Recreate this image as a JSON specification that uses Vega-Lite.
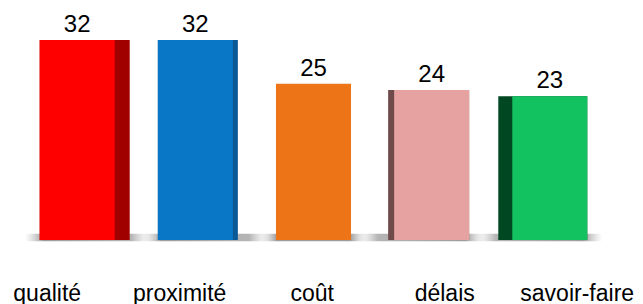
{
  "$schema": "https://vega.github.io/schema/vega-lite/v6.json",
  "width": 643,
  "height": 240,
  "autosize": {"type": "none"},
  "padding": {"left": 0, "top": 0, "right": 0, "bottom": 64},
  "background": "white",
  "config": {"view": {"stroke": null}},
  "data": {
    "values": [
      {"critere": "qualité", "valeur": 32},
      {"critere": "proximité", "valeur": 32},
      {"critere": "coût", "valeur": 25},
      {"critere": "délais", "valeur": 24},
      {"critere": "savoir-faire", "valeur": 23}
    ]
  },
  "encoding": {
    "x": {
      "field": "critere",
      "type": "nominal",
      "sort": null,
      "scale": {"type": "band", "domain": ["qualité", "proximité", "coût", "délais", "savoir-faire"], "range": [39.7, 587.3], "paddingInner": 0.365, "paddingOuter": 0},
      "axis": null
    },
    "y": {
      "field": "valeur",
      "type": "quantitative",
      "scale": {"domain": [0, 38.4], "nice": false, "zero": true},
      "axis": null
    }
  },
  "layer": [
    {
      "transform": [{"filter": "datum.critere === 'qualité' || datum.critere === 'proximité'"}],
      "mark": {"type": "bar", "width": 125, "xOffset": 10, "color": {"gradient": "linear", "x1": 0, "x2": 1, "y1": 0, "y2": 0, "stops": [{"offset": 0, "color": "rgba(170,170,170,0)"}, {"offset": 0.15, "color": "rgba(115,115,115,0.7)"}, {"offset": 0.85, "color": "rgba(120,120,120,0.55)"}, {"offset": 1, "color": "rgba(170,170,170,0)"}]}},
      "encoding": {"y": {"datum": 1.0}, "y2": {"datum": -0.2}}
    },
    {
      "transform": [{"filter": "datum.critere === 'coût'"}],
      "mark": {"type": "bar", "width": 105, "xOffset": 0, "color": {"gradient": "linear", "x1": 0, "x2": 1, "y1": 0, "y2": 0, "stops": [{"offset": 0, "color": "rgba(170,170,170,0)"}, {"offset": 0.15, "color": "rgba(115,115,115,0.7)"}, {"offset": 0.85, "color": "rgba(115,115,115,0.7)"}, {"offset": 1, "color": "rgba(170,170,170,0)"}]}},
      "encoding": {"y": {"datum": 1.0}, "y2": {"datum": -0.2}}
    },
    {
      "transform": [{"filter": "datum.critere === 'délais' || datum.critere === 'savoir-faire'"}],
      "mark": {"type": "bar", "width": 125, "xOffset": -10, "color": {"gradient": "linear", "x1": 0, "x2": 1, "y1": 0, "y2": 0, "stops": [{"offset": 0, "color": "rgba(170,170,170,0)"}, {"offset": 0.15, "color": "rgba(120,120,120,0.55)"}, {"offset": 0.85, "color": "rgba(115,115,115,0.7)"}, {"offset": 1, "color": "rgba(170,170,170,0)"}]}},
      "encoding": {"y": {"datum": 1.0}, "y2": {"datum": -0.2}}
    },
    {
      "transform": [{"filter": "datum.critere === 'qualité'"}],
      "mark": {"type": "bar", "width": 90, "xOffset": 7.5, "color": "#a00000"},
      "encoding": {"y2": {"datum": 0}}
    },
    {
      "transform": [{"filter": "datum.critere === 'proximité'"}],
      "mark": {"type": "bar", "width": 80, "xOffset": 2.5, "color": "#0b5896"},
      "encoding": {"y2": {"datum": 0}}
    },
    {
      "transform": [{"filter": "datum.critere === 'délais'"}],
      "mark": {"type": "bar", "width": 81, "xOffset": -3, "color": "#6e4a4a"},
      "encoding": {"y2": {"datum": 0}}
    },
    {
      "transform": [{"filter": "datum.critere === 'savoir-faire'"}],
      "mark": {"type": "bar", "width": 89, "xOffset": -7, "color": "#004722"},
      "encoding": {"y2": {"datum": 0}}
    },
    {
      "mark": {"type": "bar"},
      "encoding": {
        "y2": {"datum": 0},
        "color": {
          "field": "critere",
          "type": "nominal",
          "scale": {"domain": ["qualité", "proximité", "coût", "délais", "savoir-faire"], "range": ["#ff0000", "#0a76c6", "#ed7517", "#e6a1a1", "#12c160"]},
          "legend": null
        }
      }
    },
    {
      "mark": {"type": "text", "font": "Liberation Sans", "fontSize": 24, "color": "black", "baseline": "alphabetic", "dy": -8},
      "encoding": {"text": {"field": "valeur", "type": "quantitative"}}
    },
    {
      "mark": {"type": "point", "opacity": 0},
      "encoding": {
        "x": {
          "field": "critere",
          "type": "nominal",
          "sort": null,
          "scale": {"type": "point", "domain": ["qualité", "proximité", "coût", "délais", "savoir-faire"], "range": [46.7, 576.7], "padding": 0},
          "axis": {"orient": "bottom", "title": null, "domain": false, "ticks": false, "labelAngle": 0, "labelFont": "Liberation Sans", "labelFontSize": 23, "labelColor": "black", "labelPadding": 60, "labelBaseline": "alphabetic", "labelFlush": false, "labelOverlap": false, "labelBound": false}
        }
      }
    }
  ],
  "resolve": {"scale": {"x": "independent"}}
}
